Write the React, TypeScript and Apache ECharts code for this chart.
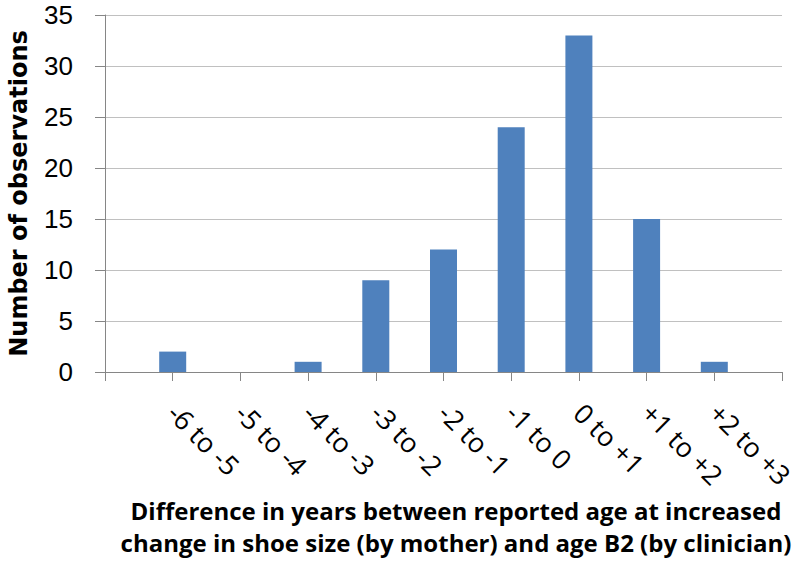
import React, { useEffect, useRef } from "react";
import * as echarts from "echarts";

const categories = ["", "-6 to -5", "-5 to -4", "-4 to -3", "-3 to -2", "-2 to -1", "-1 to 0", "0 to +1", "+1 to +2", "+2 to +3", ""];
const observations: (number | null)[] = [null, 2, 0, 1, 9, 12, 24, 33, 15, 1, null];
const yTicks = { min: 0, max: 35, interval: 5 };
const yTitle = "Number of observations";
const xTitle = "Difference in years between reported age at increased\nchange in shoe size (by mother) and age B2 (by clinician)";

const FONT = "'Open Sans', 'Noto Sans', sans-serif";

export default function App() {
  const ref = useRef<HTMLDivElement>(null);
  useEffect(() => {
    if (!ref.current) return;
    const chart = echarts.init(ref.current, null, { renderer: "svg" });
    chart.setOption({
      animation: false,
      backgroundColor: "#ffffff",
      title: {
        text: xTitle,
        left: 456,
        top: 494,
        padding: 0,
        textAlign: "center",
        textStyle: {
          fontFamily: FONT,
          fontSize: 24,
          fontWeight: "bold",
          color: "#000",
          lineHeight: 32,
        },
      },
      grid: { left: 105, right: 18, top: 15, bottom: 190, containLabel: false, outerBoundsMode: "none" },
      xAxis: {
        type: "category",
        data: categories,
        boundaryGap: false,
        axisLine: { show: true, lineStyle: { color: "#868686", width: 1 } },
        axisTick: { show: true, length: 9, interval: 0, lineStyle: { color: "#868686" } },
        axisLabel: {
          interval: 0,
          rotate: -45,
          margin: 36,
          fontFamily: FONT,
          fontSize: 27,
          color: "#000",
        },
        splitLine: { show: false },
      },
      yAxis: {
        type: "value",
        min: yTicks.min,
        max: yTicks.max,
        interval: yTicks.interval,
        name: yTitle,
        nameLocation: "middle",
        nameGap: 74,
        nameTextStyle: {
          fontFamily: "'DejaVu Sans', sans-serif",
          fontSize: 24,
          fontWeight: "bold",
          color: "#000",
        },
        axisLine: { show: true, lineStyle: { color: "#868686", width: 1 } },
        axisTick: { show: true, length: 10, lineStyle: { color: "#868686" } },
        axisLabel: {
          margin: 32,
          fontFamily: "'Liberation Sans', Arial, sans-serif",
          fontSize: 26,
          color: "#000",
        },
        splitLine: { show: true, lineStyle: { color: "#c0c0c0", width: 1 } },
      },
      series: [
        {
          type: "bar",
          data: observations,
          barWidth: 27,
          itemStyle: { color: "#4F81BD" },
        },
      ],
    });
    return () => chart.dispose();
  }, []);
  return <div ref={ref} style={{ position: "fixed", left: 0, top: 0, width: 800, height: 562 }} />;
}
